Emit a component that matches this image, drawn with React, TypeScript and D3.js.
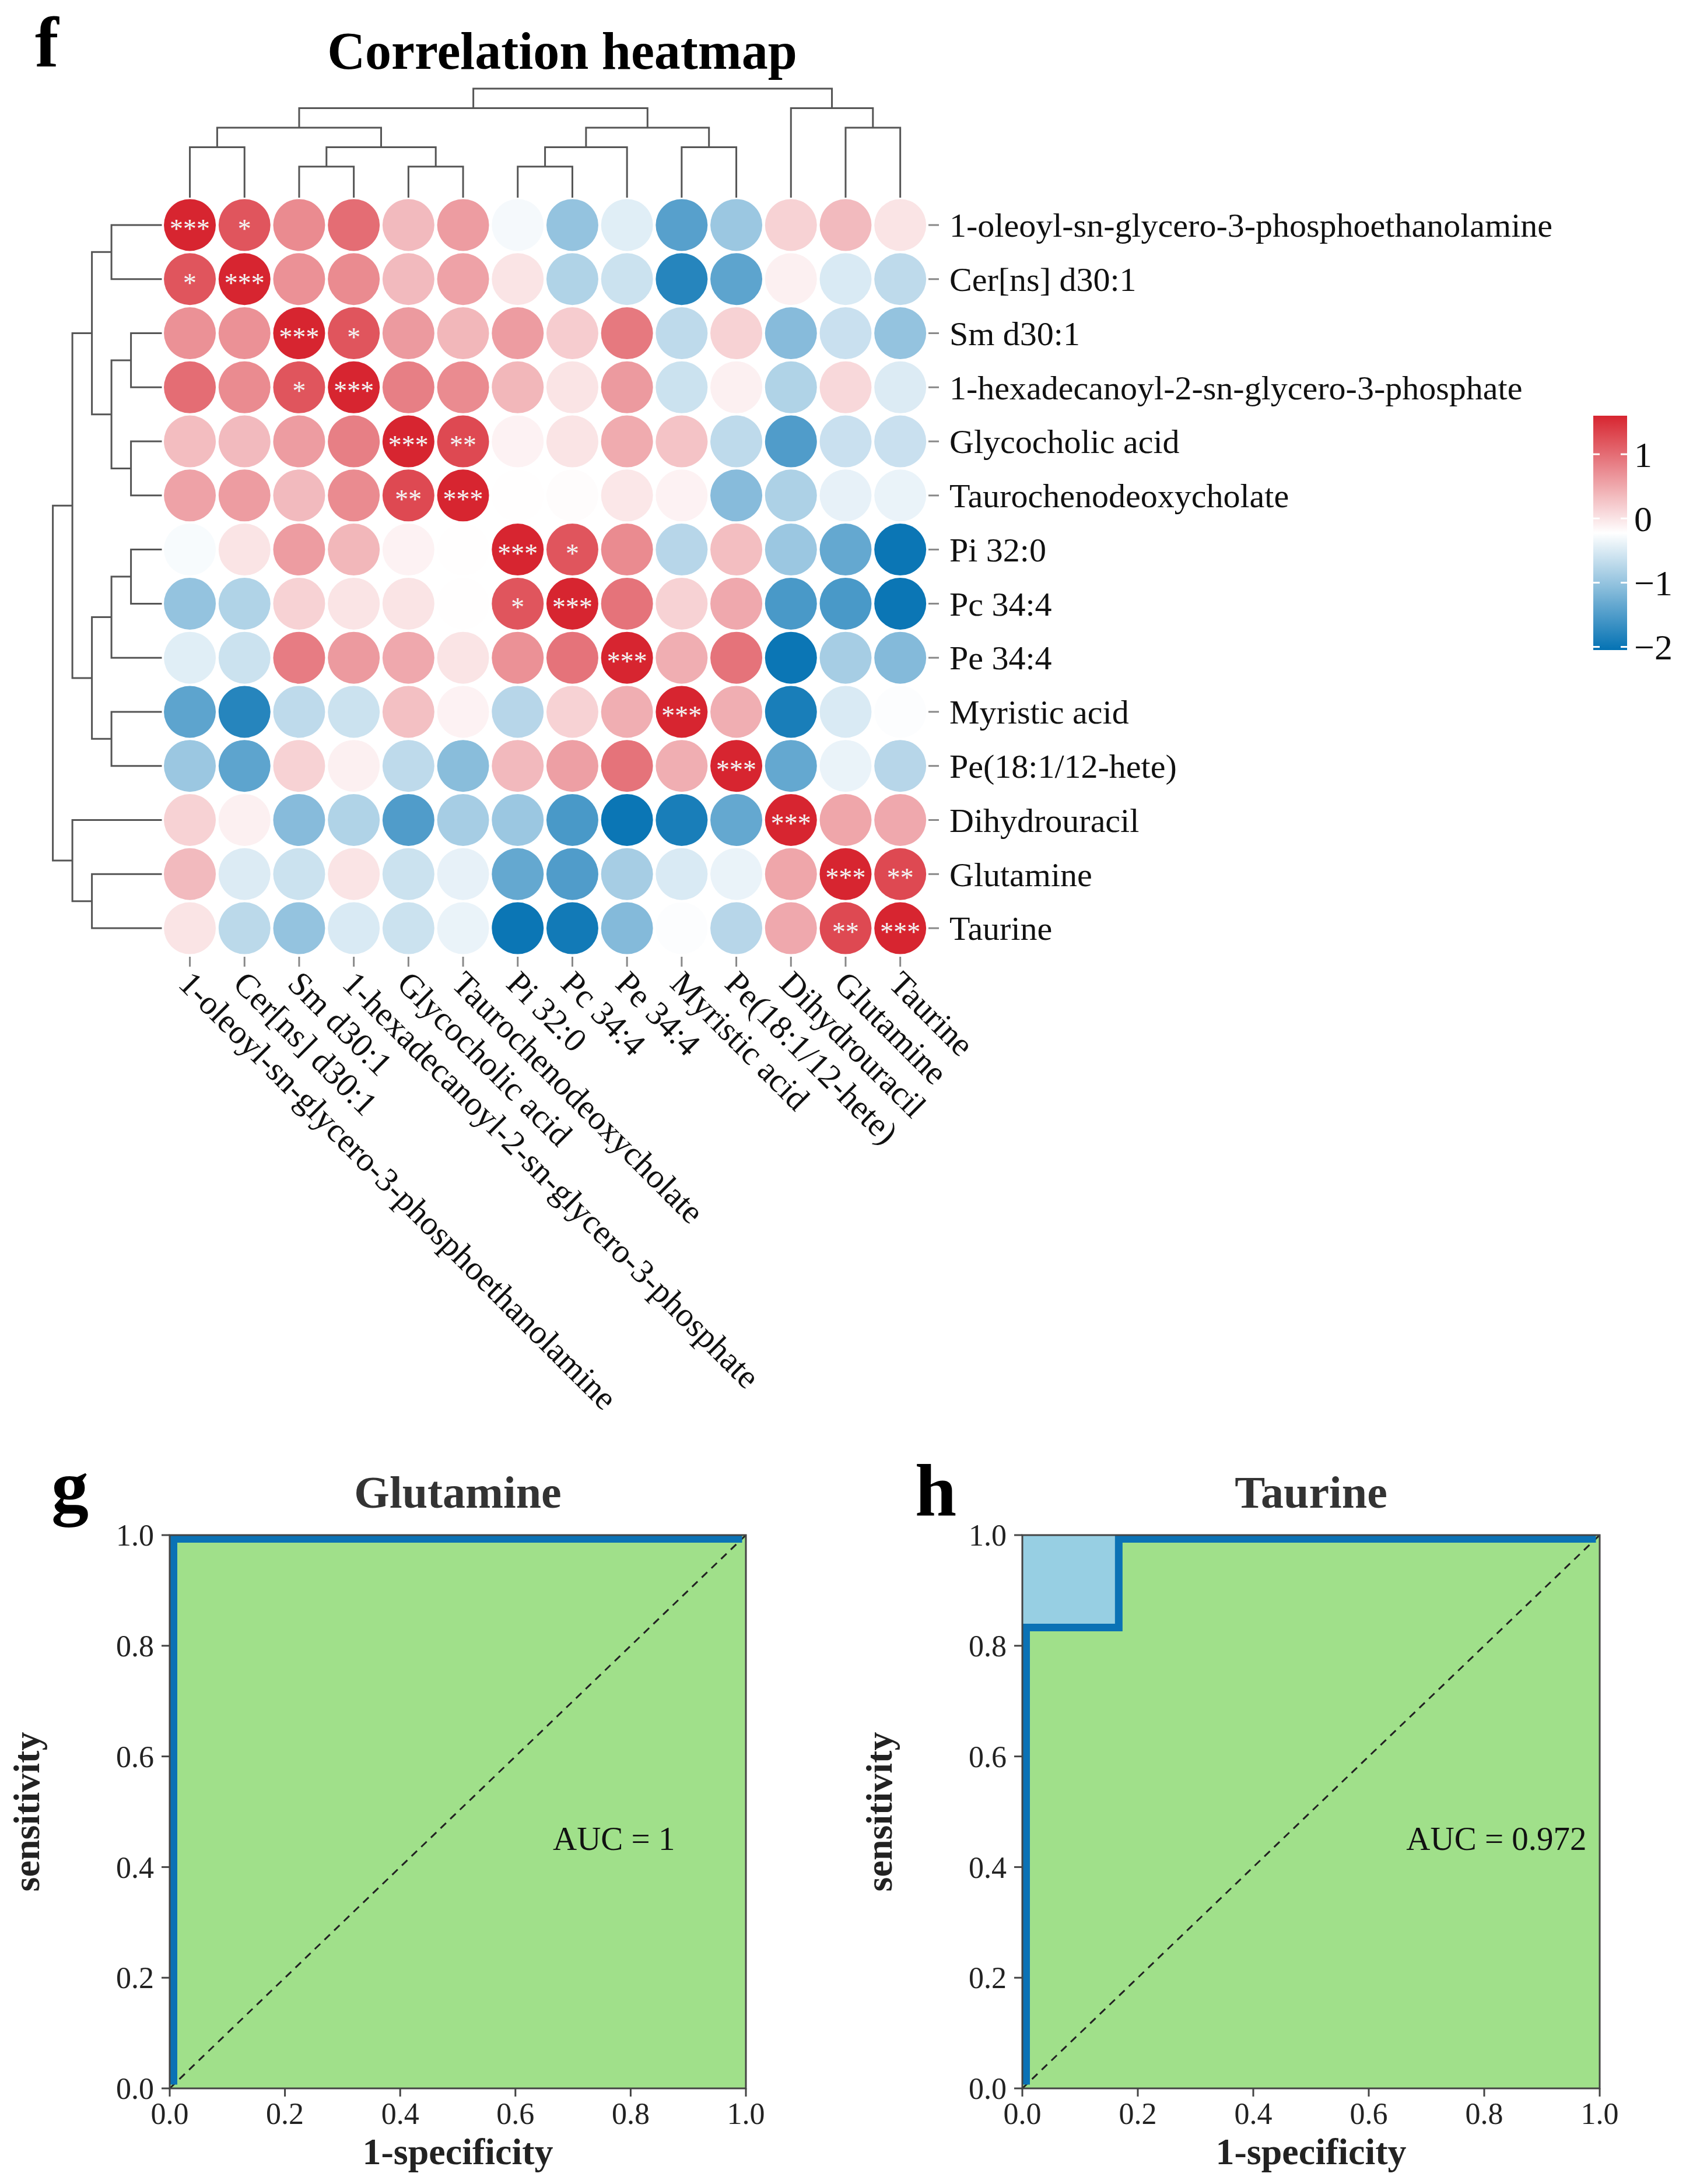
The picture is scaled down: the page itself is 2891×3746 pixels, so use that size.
import { useEffect } from "react";
import * as d3 from "d3";

// ---------- data ----------
const metabolites = [
  "1-oleoyl-sn-glycero-3-phosphoethanolamine",
  "Cer[ns] d30:1",
  "Sm d30:1",
  "1-hexadecanoyl-2-sn-glycero-3-phosphate",
  "Glycocholic acid",
  "Taurochenodeoxycholate",
  "Pi 32:0",
  "Pc 34:4",
  "Pe 34:4",
  "Myristic acid",
  "Pe(18:1/12-hete)",
  "Dihydrouracil",
  "Glutamine",
  "Taurine",
];

// scaled correlation, rows and columns both in metabolite order
const corrValues: number[][] = [
  [1.6, 1.2, 0.75, 1.0, 0.35, 0.6, -0.3, -1.0, -0.45, -1.45, -0.95, 0.15, 0.35, 0.0],
  [1.2, 1.6, 0.7, 0.75, 0.35, 0.55, 0.0, -0.8, -0.6, -1.8, -1.4, -0.1, -0.5, -0.7],
  [0.7, 0.7, 1.6, 1.2, 0.62, 0.38, 0.6, 0.2, 0.9, -0.7, 0.15, -1.1, -0.62, -1.0],
  [1.0, 0.75, 1.2, 1.6, 0.85, 0.75, 0.38, 0.0, 0.62, -0.6, -0.1, -0.8, 0.1, -0.48],
  [0.33, 0.35, 0.6, 0.85, 1.6, 1.3, -0.12, 0.0, 0.48, 0.28, -0.7, -1.5, -0.62, -0.62],
  [0.55, 0.6, 0.35, 0.75, 1.3, 1.6, -0.22, -0.2, -0.02, -0.12, -1.1, -0.82, -0.4, -0.38],
  [-0.28, 0.0, 0.6, 0.38, -0.12, -0.22, 1.6, 1.2, 0.75, -0.75, 0.32, -0.95, -1.35, -2.0],
  [-1.0, -0.8, 0.15, 0.0, 0.0, -0.22, 1.2, 1.6, 0.95, 0.15, 0.5, -1.55, -1.55, -2.0],
  [-0.45, -0.6, 0.87, 0.62, 0.5, 0.0, 0.7, 0.95, 1.6, 0.45, 0.95, -2.0, -0.87, -1.12],
  [-1.4, -1.8, -0.7, -0.6, 0.3, -0.12, -0.75, 0.15, 0.45, 1.6, 0.45, -1.9, -0.5, -0.25],
  [-0.95, -1.4, 0.15, -0.1, -0.7, -1.08, 0.36, 0.58, 0.95, 0.45, 1.6, -1.35, -0.38, -0.75],
  [0.15, -0.1, -1.1, -0.8, -1.5, -0.87, -0.95, -1.55, -2.0, -1.9, -1.35, 1.6, 0.52, 0.5],
  [0.35, -0.48, -0.6, 0.0, -0.6, -0.4, -1.35, -1.5, -0.87, -0.5, -0.38, 0.52, 1.6, 1.3],
  [0.0, -0.72, -1.0, -0.5, -0.6, -0.38, -2.0, -1.95, -1.12, -0.25, -0.75, 0.5, 1.3, 1.6],
];

// [row, col, label]
const signifMarks: [number, number, string][] = [
  [0, 0, "***"], [0, 1, "*"],
  [1, 0, "*"], [1, 1, "***"],
  [2, 2, "***"], [2, 3, "*"],
  [3, 2, "*"], [3, 3, "***"],
  [4, 4, "***"], [4, 5, "**"],
  [5, 4, "**"], [5, 5, "***"],
  [6, 6, "***"], [6, 7, "*"],
  [7, 6, "*"], [7, 7, "***"],
  [8, 8, "***"],
  [9, 9, "***"],
  [10, 10, "***"],
  [11, 11, "***"],
  [12, 12, "***"], [12, 13, "**"],
  [13, 12, "**"], [13, 13, "***"],
];

// hierarchical clustering merges [a, b, level]; ids >= 14 are earlier merges
const linkage: [number, number, number][] = [
  [2, 3, 1],
  [4, 5, 1],
  [6, 7, 1],
  [0, 1, 2],
  [14, 15, 2],
  [16, 8, 2],
  [9, 10, 2],
  [17, 18, 3],
  [19, 20, 3],
  [12, 13, 3],
  [21, 22, 4],
  [11, 23, 4],
  [24, 25, 5],
];

const colorDomain = [-2.05, -0.225, 1.6];
const colorRange = ["#0472b3", "#ffffff", "#d72530"];
const legendTicks = [1, 0, -1, -2];

const rocTicks = [0, 0.2, 0.4, 0.6, 0.8, 1.0];
const glutamineRoc: [number, number][] = [[0, 0], [0, 1], [1, 1]];
const taurineRoc: [number, number][] = [[0, 0], [0, 0.833], [0.167, 0.833], [0.167, 1], [1, 1]];
const glutamineAuc = "AUC = 1";
const taurineAuc = "AUC = 0.972";

const SERIF = "'Liberation Serif', 'Times New Roman', serif";

// ---------- heatmap ----------
const n = metabolites.length;
const x = d3.scaleBand<number>().domain(d3.range(n)).range([278.7, 1590.5]);
const y = d3.scaleBand<number>().domain(d3.range(n)).range([339.6, 1638.4]);
const color = d3.scaleLinear<string>().domain(colorDomain).range(colorRange).clamp(true);
const topDepth = d3.scaleLinear().domain([0, 5]).range([319.3, 152]);
const leftDepth = d3.scaleLinear().domain([0, 5]).range([258.1, 90.6]);

function dendroPaths(pos: (i: number) => number, depth: (h: number) => number, leafEdge: number, vertical: boolean) {
  const p: number[] = [];
  const d: number[] = [];
  for (let i = 0; i < n; i++) { p[i] = pos(i); d[i] = leafEdge; }
  return linkage.map(([a, b, h], k) => {
    const id = n + k;
    const dh = depth(h);
    p[id] = (p[a] + p[b]) / 2;
    d[id] = dh;
    return vertical
      ? `M${p[a]},${d[a]}V${dh}H${p[b]}V${d[b]}`
      : `M${d[a]},${p[a]}H${dh}V${p[b]}H${d[b]}`;
  });
}

function Heatmap() {
  const cx = (i: number) => x(i)! + x.bandwidth() / 2;
  const cy = (i: number) => y(i)! + y.bandwidth() / 2;
  const topPaths = dendroPaths(cx, topDepth, 339, true);
  const leftPaths = dendroPaths(cy, leftDepth, 277.5, false);
  const legendY = d3.scaleLinear().domain([colorDomain[0], colorDomain[2]]).range([1115, 713]);
  const gradStops = d3.range(0, 1.0001, 0.05).map((t) => ({
    offset: t,
    color: color(colorDomain[0] + t * (colorDomain[2] - colorDomain[0])),
  }));
  return (
    <g>
      <text x={60} y={114} fontFamily={SERIF} fontWeight="bold" fontSize={122}>f</text>
      <text x={964} y={118} textAnchor="middle" fontFamily={SERIF} fontWeight="bold" fontSize={90}>Correlation heatmap</text>

      {topPaths.map((d, i) => <path key={"t" + i} d={d} fill="none" stroke="#555" strokeWidth={3} />)}
      {leftPaths.map((d, i) => <path key={"l" + i} d={d} fill="none" stroke="#555" strokeWidth={3} />)}

      {corrValues.map((row, r) => row.map((v, c) => (
        <circle key={`c${r}-${c}`} cx={cx(c)} cy={cy(r)} r={44.5} fill={color(v)} />
      )))}
      {signifMarks.map(([r, c, s]) => (
        <text key={`s${r}-${c}`} x={cx(c)} y={cy(r) + 22} textAnchor="middle" fill="#f4f4f4"
          fontFamily={SERIF} fontSize={46}>{s}</text>
      ))}

      {metabolites.map((m, i) => (
        <g key={"r" + i}>
          <line x1={1592} x2={1610} y1={cy(i)} y2={cy(i)} stroke="#888" strokeWidth={3} />
          <text x={1628} y={cy(i)} dy="0.35em" fontFamily={SERIF} fontSize={58} fill="#111">{m}</text>
        </g>
      ))}
      {metabolites.map((m, i) => (
        <g key={"cl" + i}>
          <line x1={cx(i)} x2={cx(i)} y1={1641} y2={1658} stroke="#888" strokeWidth={3} />
          <text transform={`translate(${cx(i) - 8},${1676}) rotate(45)`} dy="0.35em"
            fontFamily={SERIF} fontSize={58} fill="#111">{m}</text>
        </g>
      ))}

      <defs>
        <linearGradient id="cbar" x1="0" y1="1" x2="0" y2="0">
          {gradStops.map((s, i) => <stop key={i} offset={s.offset} stopColor={s.color} />)}
        </linearGradient>
      </defs>
      <rect x={2732} y={713} width={58} height={402} fill="url(#cbar)" />
      {legendTicks.map((t) => (
        <g key={"lt" + t}>
          <line x1={2732} x2={2743} y1={legendY(t)} y2={legendY(t)} stroke="#fff" strokeWidth={3} />
          <line x1={2779} x2={2790} y1={legendY(t)} y2={legendY(t)} stroke="#fff" strokeWidth={3} />
          <text x={2802} y={legendY(t)} dy="0.35em" fontFamily={SERIF} fontSize={62} fill="#111">
            {t < 0 ? "\u2212" + Math.abs(t) : String(t)}
          </text>
        </g>
      ))}
    </g>
  );
}

// ---------- ROC panels ----------
interface RocProps {
  letter: string;
  letterX: number;
  letterY: number;
  title: string;
  left: number;
  right: number;
  points: [number, number][];
  auc: string;
  clipId: string;
}

function RocPanel({ letter, letterX, letterY, title, left, right, points, auc, clipId }: RocProps) {
  const top = 2633;
  const bottom = 3582;
  const sx = d3.scaleLinear().domain([0, 1]).range([left, right]);
  const sy = d3.scaleLinear().domain([0, 1]).range([bottom, top]);
  const fmt = d3.format(".1f");
  const half = 6.5;
  const area = d3.area<[number, number]>().x((d) => sx(d[0])).y0(sy(0)).y1((d) => sy(d[1]));
  const line = d3.line<[number, number]>()
    .x((d) => Math.min(Math.max(sx(d[0]), left + half), right - half))
    .y((d) => Math.min(Math.max(sy(d[1]), top + half), bottom - half));
  const midX = (left + right) / 2;
  return (
    <g>
      <text x={letterX} y={letterY} fontFamily={SERIF} fontWeight="bold" fontSize={128}>{letter}</text>
      <text x={midX} y={top - 47} textAnchor="middle" fontFamily={SERIF} fontWeight="bold" fontSize={78} fill="#333">{title}</text>
      <defs>
        <clipPath id={clipId}><rect x={left} y={top} width={right - left} height={bottom - top} /></clipPath>
      </defs>
      <rect x={left} y={top} width={right - left} height={bottom - top} fill="#97cfe3" />
      <g clipPath={`url(#${clipId})`}>
        <path d={area(points)!} fill="#a0e08a" />
        <line x1={sx(0)} y1={sy(0)} x2={sx(1)} y2={sy(1)} stroke="#222" strokeWidth={3} strokeDasharray="13,10" />
        <path d={line(points)!} fill="none" stroke="#0b72b5" strokeWidth={13} strokeLinejoin="miter" />
      </g>
      <rect x={left} y={top} width={right - left} height={bottom - top} fill="none" stroke="#444" strokeWidth={3} />
      {rocTicks.map((t) => (
        <g key={"y" + t}>
          <line x1={left - 14} x2={left} y1={sy(t)} y2={sy(t)} stroke="#444" strokeWidth={3} />
          <text x={left - 27} y={sy(t)} dy="0.35em" textAnchor="end" fontFamily={SERIF} fontSize={52} fill="#222">{fmt(t)}</text>
        </g>
      ))}
      {rocTicks.map((t) => (
        <g key={"x" + t}>
          <line x1={sx(t)} x2={sx(t)} y1={bottom} y2={bottom + 14} stroke="#444" strokeWidth={3} />
          <text x={sx(t)} y={bottom + 61} textAnchor="middle" fontFamily={SERIF} fontSize={52} fill="#222">{fmt(t)}</text>
        </g>
      ))}
      <text x={sx(0.665)} y={sy(0.431)} fontFamily={SERIF} fontSize={57} fill="#111">{auc}</text>
      <text x={midX} y={3712} textAnchor="middle" fontFamily={SERIF} fontWeight="bold" fontSize={64} fill="#222">1-specificity</text>
      <text transform={`translate(${left - 224},${(top + bottom) / 2}) rotate(-90)`} textAnchor="middle"
        fontFamily={SERIF} fontWeight="bold" fontSize={64} fill="#222">sensitivity</text>
    </g>
  );
}

export default function App() {
  useEffect(() => {
    document.body.style.margin = "0";
  }, []);
  return (
    <div style={{ position: "absolute", left: 0, top: 0, background: "#fff" }}>
      <svg width={2891} height={3746} viewBox="0 0 2891 3746" style={{ display: "block", background: "#fff" }}>
        <Heatmap />
        <RocPanel letter="g" letterX={88} letterY={2592} title="Glutamine" left={291} right={1279}
          points={glutamineRoc} auc={glutamineAuc} clipId="clipG" />
        <RocPanel letter="h" letterX={1569} letterY={2599} title="Taurine" left={1753} right={2743}
          points={taurineRoc} auc={taurineAuc} clipId="clipH" />
      </svg>
    </div>
  );
}
